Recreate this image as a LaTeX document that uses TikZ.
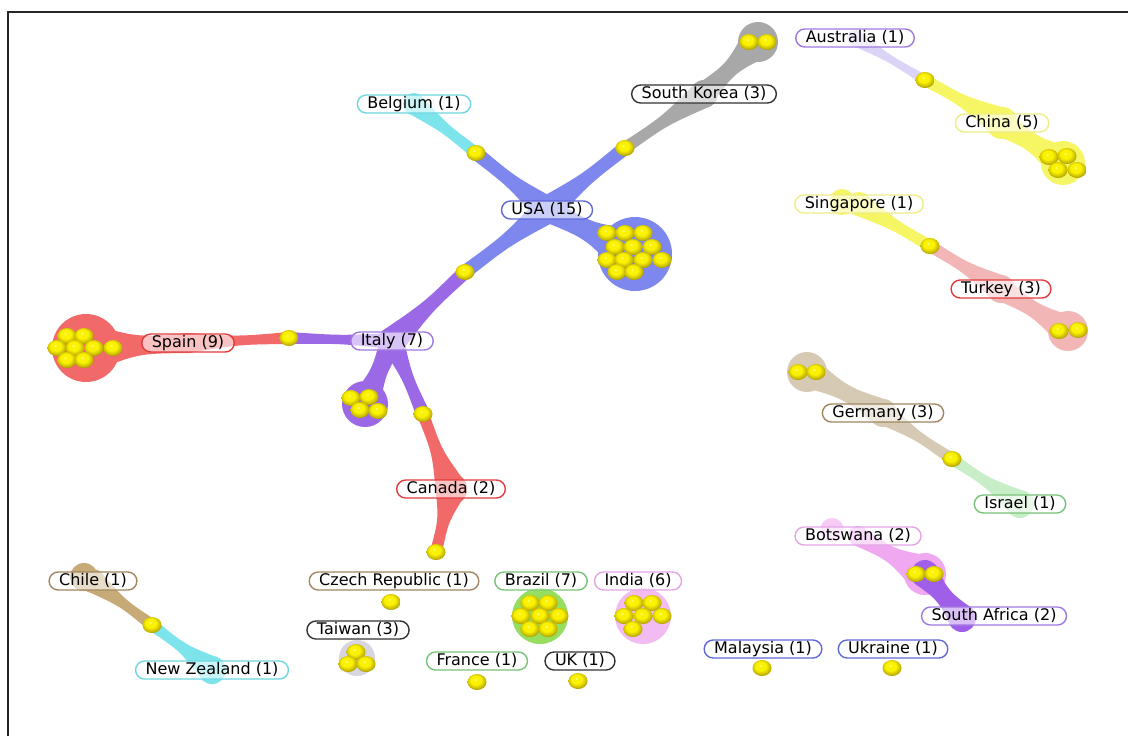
\documentclass[tikz,border=0pt]{standalone}
\usepackage{fontspec}
\setmainfont{DejaVu Sans}
\usetikzlibrary{calc,shapes.geometric}
\pgfdeclarelayer{background}
\pgfsetlayers{background,main}
\definecolor{cUSA}{RGB}{125,135,238}
\definecolor{cIta}{RGB}{155,105,230}
\definecolor{cRed}{RGB}{242,105,105}
\definecolor{cGray}{RGB}{168,168,168}
\definecolor{cCyan}{RGB}{125,228,236}
\definecolor{cLav}{RGB}{220,212,246}
\definecolor{cYel}{RGB}{246,246,100}
\definecolor{cPinkRed}{RGB}{242,182,182}
\definecolor{cTan}{RGB}{214,202,180}
\definecolor{cGreenL}{RGB}{200,238,200}
\definecolor{cPink}{RGB}{240,168,240}
\definecolor{cPurp}{RGB}{160,95,232}
\definecolor{cChile}{RGB}{198,170,120}
\definecolor{cBrazil}{RGB}{150,222,95}
\definecolor{cIndia}{RGB}{242,188,242}
\definecolor{cTwn}{RGB}{216,213,224}
\definecolor{bPurp}{RGB}{160,120,225}
\definecolor{bDark}{RGB}{50,50,50}
\definecolor{bCyan}{RGB}{110,215,225}
\definecolor{bYel}{RGB}{238,238,130}
\definecolor{bBlue}{RGB}{95,105,215}
\definecolor{bRed}{RGB}{225,60,60}
\definecolor{bTan}{RGB}{160,135,95}
\definecolor{bGreen}{RGB}{120,195,120}
\definecolor{bPink}{RGB}{228,165,228}
\definecolor{ySpec}{RGB}{255,255,190}
\definecolor{yMid}{RGB}{250,242,0}
\definecolor{yDark}{RGB}{200,185,0}
\definecolor{yRim}{RGB}{130,120,0}
\pgfdeclareradialshading{yball}{\pgfpoint{-5bp}{8bp}}{%
  color(0bp)=(ySpec); color(4bp)=(yMid); color(14bp)=(yMid); color(24bp)=(yDark); color(32bp)=(yRim); color(50bp)=(yRim)}
\tikzset{
  lab/.style={draw=#1, fill=white, fill opacity=0.6, text opacity=1,
    rounded corners=4.5pt, line width=0.7pt, minimum height=9pt,
    inner xsep=5pt, inner ysep=0pt, text height=5.8pt, text depth=1.6pt,
    font=\fontsize{8}{9}\selectfont},
  sph/.style={ellipse, minimum width=9.5pt, minimum height=8pt, inner sep=0pt,
    shading=yball}
}
% ribbon: colour, from, to, half width at from, half width at to, half width in middle
\newcommand{\rib}[6]{%
  \coordinate (rm) at ($(#2)!0.5!(#3)$);
  \fill[#1] ($(#2)!#4!90:(#3)$) .. controls ($(rm)!#6!90:(#3)$) .. ($(#3)!#5!-90:(#2)$)
    -- ($(#3)!#5!90:(#2)$) .. controls ($(rm)!#6!-90:(#3)$) .. ($(#2)!#4!-90:(#3)$) -- cycle;
  \fill[#1] (#2) circle[radius=#4];
  \fill[#1] (#3) circle[radius=#5];
}
\begin{document}
\begin{tikzpicture}[x=0.5pt,y=-0.5pt]
\useasboundingbox (0,0) rectangle (1128,736);
\begin{pgfonlayer}{background}
\fill[white] (0,0) rectangle (1128,736);
\end{pgfonlayer}
\draw[line width=1.1pt, black!85] (8,736) -- (8,12) -- (1128,12);

% labels
\node[lab=bPurp] (aus) at (855,38) {Australia (1)};
\node[lab=bDark] (sk) at (704,94) {South Korea (3)};
\node[lab=bCyan] (bel) at (414,104) {Belgium (1)};
\node[lab=bYel] (chn) at (1002,123) {China (5)};
\node[lab=bBlue] (usa) at (547,210) {USA (15)};
\node[lab=bYel] (sgp) at (859,204) {Singapore (1)};
\node[lab=bRed] (spa) at (188,343) {Spain (9)};
\node[lab=bPurp] (ita) at (392,341) {Italy (7)};
\node[lab=bRed] (tur) at (1001,289) {Turkey (3)};
\node[lab=bTan] (ger) at (883,413) {Germany (3)};
\node[lab=bRed] (can) at (451,489) {Canada (2)};
\node[lab=bGreen] (isr) at (1020,504) {Israel (1)};
\node[lab=bPink] (bot) at (858,536) {Botswana (2)};
\node[lab=bTan] (chl) at (93,581) {Chile (1)};
\node[lab=bTan] (cze) at (394,581) {Czech Republic (1)};
\node[lab=bGreen] (bra) at (541,581) {Brazil (7)};
\node[lab=bPink] (ind) at (638,581) {India (6)};
\node[lab=bPurp] (rsa) at (994,616) {South Africa (2)};
\node[lab=bDark] (twn) at (358,630) {Taiwan (3)};
\node[lab=bBlue] (mal) at (763,649) {Malaysia (1)};
\node[lab=bBlue] (ukr) at (893,649) {Ukraine (1)};
\node[lab=bCyan] (nzl) at (212,670) {New Zealand (1)};
\node[lab=bGreen] (fra) at (477,661) {France (1)};
\node[lab=bDark] (uk) at (580,661) {UK (1)};

% cluster centres
\coordinate (cUSA) at (635,254);
\coordinate (cSK) at (758,42);
\coordinate (cSpa) at (86,348);
\coordinate (cIta) at (365,404);
\coordinate (cChn) at (1063,163);
\coordinate (cTur) at (1068,331);
\coordinate (cGer) at (807,372);
\coordinate (cBS) at (925,574);
\coordinate (cBra) at (540,616);
\coordinate (cInd) at (643,616);
\coordinate (cTwn) at (357,658);
\coordinate (cSA) at (962,618);

% single balls
\node[sph] (bUB) at (476,153) {};
\node[sph] (bUS) at (625,148) {};
\node[sph] (bUI) at (465,272) {};
\node[sph] (bSI) at (289,338) {};
\node[sph] (bIC) at (423,414) {};
\node[sph] (bC) at (436,552) {};
\node[sph] (bAC) at (925,80) {};
\node[sph] (bST) at (930,246) {};
\node[sph] (bGI) at (952,459) {};
\node[sph] (bCN) at (152,625) {};
\node[sph] (bCz) at (391,602) {};
\node[sph] (bFr) at (477,682) {};
\node[sph] (bUK) at (578,681) {};
\node[sph] (bMa) at (762,668) {};
\node[sph] (bUk) at (892,668) {};

% clusters
\foreach \p [count=\i] in {(607,233),(625,233),(643,233),(615,247),(633,247),(652,247),
  (607,260),(624,260),(643,260),(662,260),(617,272),(634,272)}
  \node[sph] (u\i) at \p {};
\foreach \p [count=\i] in {(749,42),(767,42)} \node[sph] (k\i) at \p {};
\foreach \p [count=\i] in {(67,336),(84,336),(57,348),(75,348),(94,348),(113,348),(67,360),(84,360)}
  \node[sph] (s\i) at \p {};
\foreach \p [count=\i] in {(351,398),(369,397),(360,410),(378,411)} \node[sph] (i\i) at \p {};
\foreach \p [count=\i] in {(1049,157),(1067,156),(1058,170),(1077,170)} \node[sph] (c\i) at \p {};
\foreach \p [count=\i] in {(1059,331),(1078,330)} \node[sph] (t\i) at \p {};
\foreach \p [count=\i] in {(798,372),(816,372)} \node[sph] (g\i) at \p {};
\foreach \p [count=\i] in {(916,574),(934,574)} \node[sph] (z\i) at \p {};
\foreach \p [count=\i] in {(530,603),(548,603),(521,616),(540,616),(559,616),(530,629),(548,629)}
  \node[sph] (r\i) at \p {};
\foreach \p [count=\i] in {(634,603),(652,603),(624,616),(643,616),(662,616),(633,629)}
  \node[sph] (n\i) at \p {};
\foreach \p [count=\i] in {(356,652),(348,664),(366,664)} \node[sph] (w\i) at \p {};

\begin{pgfonlayer}{background}
  % USA hub
  \rib{cUSA}{usa.center}{bUB}{7pt}{3.5pt}{3pt}
  \rib{cUSA}{usa.center}{bUS}{7pt}{3.5pt}{3pt}
  \rib{cUSA}{usa.center}{bUI}{7pt}{3.5pt}{3pt}
  \rib{cUSA}{usa.center}{cUSA}{6pt}{14pt}{4pt}
  \fill[cUSA] (cUSA) circle[radius=18.5pt];
  % Belgium, South Korea
  \rib{cCyan}{bel.center}{bUB}{5.5pt}{3pt}{2.3pt}
  \rib{cGray}{bUS}{sk.center}{3pt}{7pt}{2.5pt}
  \rib{cGray}{sk.center}{cSK}{6pt}{9pt}{3pt}
  \fill[cGray] (cSK) circle[radius=10pt];
  % Italy
  \rib{cIta}{ita.center}{bUI}{7pt}{3.5pt}{3pt}
  \rib{cIta}{ita.center}{bSI}{4pt}{3pt}{2pt}
  \rib{cIta}{ita.center}{cIta}{6pt}{8pt}{3.5pt}
  \fill[cIta] (cIta) circle[radius=11.5pt];
  \rib{cIta}{ita.center}{bIC}{6pt}{3.5pt}{2.5pt}
  % Spain
  \rib{cRed}{spa.center}{bSI}{5pt}{3pt}{2pt}
  \rib{cRed}{spa.center}{cSpa}{5pt}{13pt}{4pt}
  \fill[cRed] (cSpa) circle[radius=17pt];
  % Canada
  \rib{cRed}{bIC}{can.center}{3pt}{8pt}{2.5pt}
  \rib{cRed}{can.center}{bC}{8pt}{3pt}{2.5pt}
  % Australia / China
  \rib{cLav}{aus.center}{bAC}{4pt}{2.5pt}{1.5pt}
  \rib{cYel}{bAC}{chn.center}{3pt}{8pt}{2.5pt}
  \rib{cYel}{chn.center}{cChn}{7pt}{9pt}{3.5pt}
  \fill[cYel] (cChn) circle[radius=11pt];
  % Singapore / Turkey
  \fill[cYel] (842,202) circle[radius=6.5pt];
  \rib{cYel}{sgp.center}{bST}{6pt}{3pt}{2.5pt}
  \rib{cPinkRed}{bST}{tur.center}{3pt}{7pt}{2.5pt}
  \rib{cPinkRed}{tur.center}{cTur}{6pt}{8pt}{3pt}
  \fill[cPinkRed] (cTur) circle[radius=10pt];
  % Germany / Israel
  \fill[cTan] (cGer) circle[radius=10pt];
  \rib{cTan}{cGer}{ger.center}{8pt}{7pt}{3pt}
  \rib{cTan}{ger.center}{bGI}{6pt}{3pt}{2pt}
  \rib{cGreenL}{bGI}{isr.center}{3pt}{7pt}{2pt}
  % Botswana / South Africa
  \fill[cPink!60!white] (832,530) circle[radius=6pt];
  \rib{cPink}{bot.center}{cBS}{5pt}{10pt}{3pt}
  \fill[cPink] (cBS) circle[radius=10.5pt];
  \rib{cPurp}{cBS}{cSA}{7pt}{7pt}{3.5pt}
  % Chile / New Zealand
  \fill[cChile] (84,577) circle[radius=7pt];
  \rib{cChile}{chl.center}{bCN}{6pt}{3pt}{2pt}
  \rib{cCyan}{bCN}{nzl.center}{3pt}{7pt}{2pt}
  % single clusters
  \fill[cBrazil] (cBra) circle[radius=14pt];
  \fill[cIndia] (cInd) circle[radius=14pt];
  \fill[cTwn] (cTwn) circle[radius=9pt];
\end{pgfonlayer}
\end{tikzpicture}
\end{document}
